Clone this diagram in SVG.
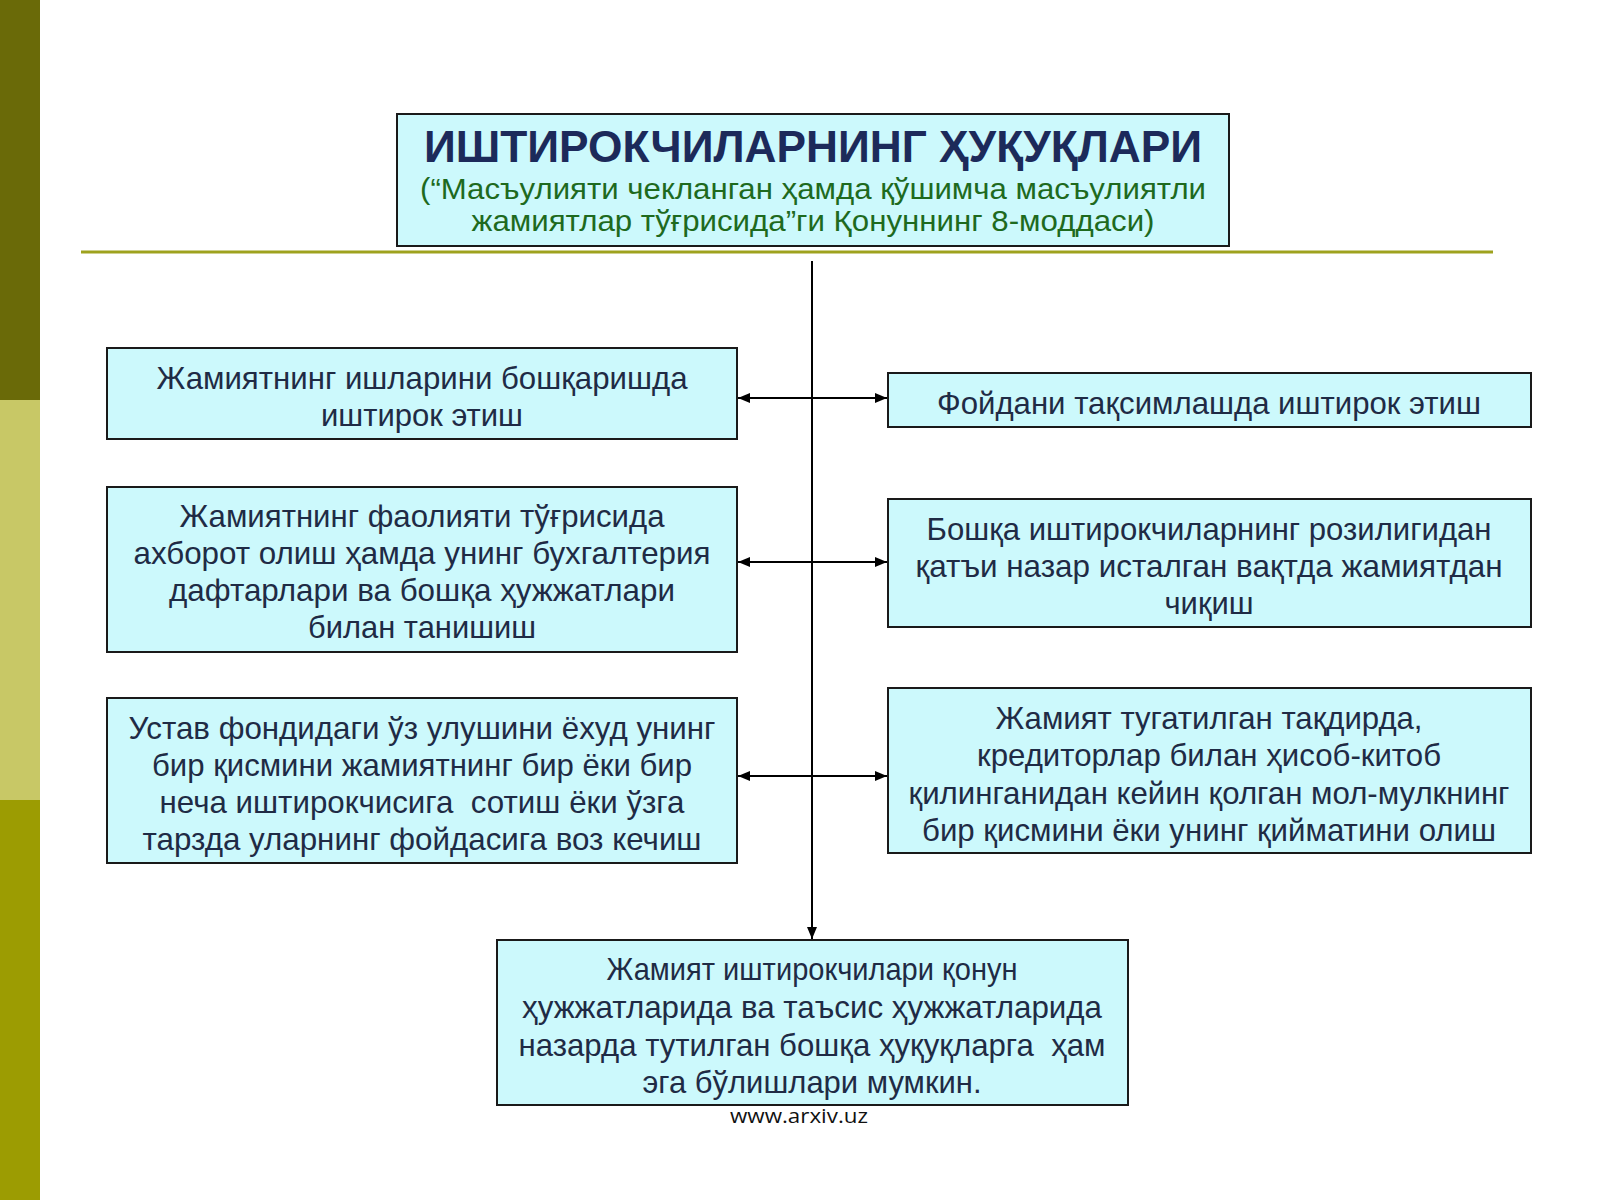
<svg xmlns="http://www.w3.org/2000/svg" width="1600" height="1200" viewBox="0 0 1600 1200">
<style>
.box{fill:#ccf9fc;stroke:#1a1a1a;stroke-width:2}
.t{font-family:"Liberation Sans",Arial,sans-serif;font-size:32px;fill:#1f2b45;text-anchor:middle}
.conn{stroke:#000;stroke-width:2;fill:none}
</style>
<defs>
<marker id="ah" viewBox="0 0 12 10" refX="12" refY="5" markerWidth="12" markerHeight="10" markerUnits="userSpaceOnUse" orient="auto-start-reverse">
<path d="M0,0 L12,5 L0,10 Z" fill="#000"/>
</marker>
</defs>
<rect x="0" y="0" width="1600" height="1200" fill="#ffffff"/>
<rect x="0" y="0" width="40" height="400" fill="#6a6a08"/>
<rect x="0" y="400" width="40" height="400" fill="#c8c866"/>
<rect x="0" y="800" width="40" height="400" fill="#9c9c02"/>
<line x1="81" y1="252" x2="1493" y2="252" stroke="#9ea21e" stroke-width="3"/>

<g id="title">
<rect x="397" y="114" width="832" height="132" class="box"/>
<text x="813" y="162" font-family="Liberation Sans,Arial,sans-serif" font-weight="bold" font-size="44" fill="#1c2a5a" text-anchor="middle" textLength="778" lengthAdjust="spacingAndGlyphs">ИШТИРОКЧИЛАРНИНГ ҲУҚУҚЛАРИ</text>
<text x="813" y="199" font-family="Liberation Sans,Arial,sans-serif" font-size="29" fill="#1e6a1e" text-anchor="middle" textLength="786" lengthAdjust="spacingAndGlyphs">(“Масъулияти чекланган ҳамда қўшимча масъулиятли</text>
<text x="813" y="231" font-family="Liberation Sans,Arial,sans-serif" font-size="29" fill="#1e6a1e" text-anchor="middle" textLength="683" lengthAdjust="spacingAndGlyphs">жамиятлар тўғрисида”ги Қонуннинг 8-моддаси)</text>
</g>

<g id="connectors">
<line class="conn" x1="812" y1="261" x2="812" y2="939" marker-end="url(#ah)"/>
<line class="conn" x1="738" y1="398" x2="887" y2="398" marker-start="url(#ah)" marker-end="url(#ah)"/>
<line class="conn" x1="738" y1="562" x2="887" y2="562" marker-start="url(#ah)" marker-end="url(#ah)"/>
<line class="conn" x1="738" y1="776" x2="887" y2="776" marker-start="url(#ah)" marker-end="url(#ah)"/>
</g>

<g id="left1">
<rect x="107" y="348" width="630" height="91" class="box"/>
<text class="t" x="422" y="389" textLength="531" lengthAdjust="spacingAndGlyphs">Жамиятнинг ишларини бошқаришда</text>
<text class="t" x="422" y="426" textLength="202" lengthAdjust="spacingAndGlyphs">иштирок этиш</text>
</g>

<g id="left2">
<rect x="107" y="487" width="630" height="165" class="box"/>
<text class="t" x="422" y="527" textLength="485" lengthAdjust="spacingAndGlyphs">Жамиятнинг фаолияти тўғрисида</text>
<text class="t" x="422" y="564" textLength="577" lengthAdjust="spacingAndGlyphs">ахборот олиш ҳамда унинг бухгалтерия</text>
<text class="t" x="422" y="601" textLength="506" lengthAdjust="spacingAndGlyphs">дафтарлари ва бошқа ҳужжатлари</text>
<text class="t" x="422" y="638" textLength="228" lengthAdjust="spacingAndGlyphs">билан танишиш</text>
</g>

<g id="left3">
<rect x="107" y="698" width="630" height="165" class="box"/>
<text class="t" x="422" y="739" textLength="587" lengthAdjust="spacingAndGlyphs">Устав фондидаги ўз улушини ёхуд унинг</text>
<text class="t" x="422" y="776" textLength="540" lengthAdjust="spacingAndGlyphs">бир қисмини жамиятнинг бир ёки бир</text>
<text class="t" x="422" y="813" textLength="525" lengthAdjust="spacingAndGlyphs" xml:space="preserve">неча иштирокчисига  сотиш ёки ўзга</text>
<text class="t" x="422" y="850" textLength="559" lengthAdjust="spacingAndGlyphs">тарзда уларнинг фойдасига воз кечиш</text>
</g>

<g id="right1">
<rect x="888" y="373" width="643" height="54" class="box"/>
<text class="t" x="1209" y="414" textLength="544" lengthAdjust="spacingAndGlyphs">Фойдани тақсимлашда иштирок этиш</text>
</g>

<g id="right2">
<rect x="888" y="499" width="643" height="128" class="box"/>
<text class="t" x="1209" y="540" textLength="565" lengthAdjust="spacingAndGlyphs">Бошқа иштирокчиларнинг розилигидан</text>
<text class="t" x="1209" y="577" textLength="587" lengthAdjust="spacingAndGlyphs">қатъи назар исталган вақтда жамиятдан</text>
<text class="t" x="1209" y="614" textLength="89" lengthAdjust="spacingAndGlyphs">чиқиш</text>
</g>

<g id="right3">
<rect x="888" y="688" width="643" height="165" class="box"/>
<text class="t" x="1209" y="729" textLength="427" lengthAdjust="spacingAndGlyphs">Жамият тугатилган тақдирда,</text>
<text class="t" x="1209" y="766" textLength="464" lengthAdjust="spacingAndGlyphs">кредиторлар билан ҳисоб-китоб</text>
<text class="t" x="1209" y="804" textLength="601" lengthAdjust="spacingAndGlyphs">қилинганидан кейин қолган мол-мулкнинг</text>
<text class="t" x="1209" y="841" textLength="574" lengthAdjust="spacingAndGlyphs">бир қисмини ёки унинг қийматини олиш</text>
</g>

<g id="bottom">
<rect x="497" y="940" width="631" height="165" class="box"/>
<text class="t" x="812" y="980" textLength="411" lengthAdjust="spacingAndGlyphs">Жамият иштирокчилари қонун</text>
<text class="t" x="812" y="1018" textLength="580" lengthAdjust="spacingAndGlyphs">ҳужжатларида ва таъсис ҳужжатларида</text>
<text class="t" x="812" y="1056" textLength="587" lengthAdjust="spacingAndGlyphs" xml:space="preserve">назарда тутилган бошқа ҳуқуқларга  ҳам</text>
<text class="t" x="812" y="1093" textLength="339" lengthAdjust="spacingAndGlyphs">эга бўлишлари мумкин.</text>
</g>

<text x="799" y="1123" font-family="Open Sans,Liberation Sans,sans-serif" font-size="20" fill="#111" text-anchor="middle" textLength="138" lengthAdjust="spacingAndGlyphs">www.arxiv.uz</text>
</svg>
